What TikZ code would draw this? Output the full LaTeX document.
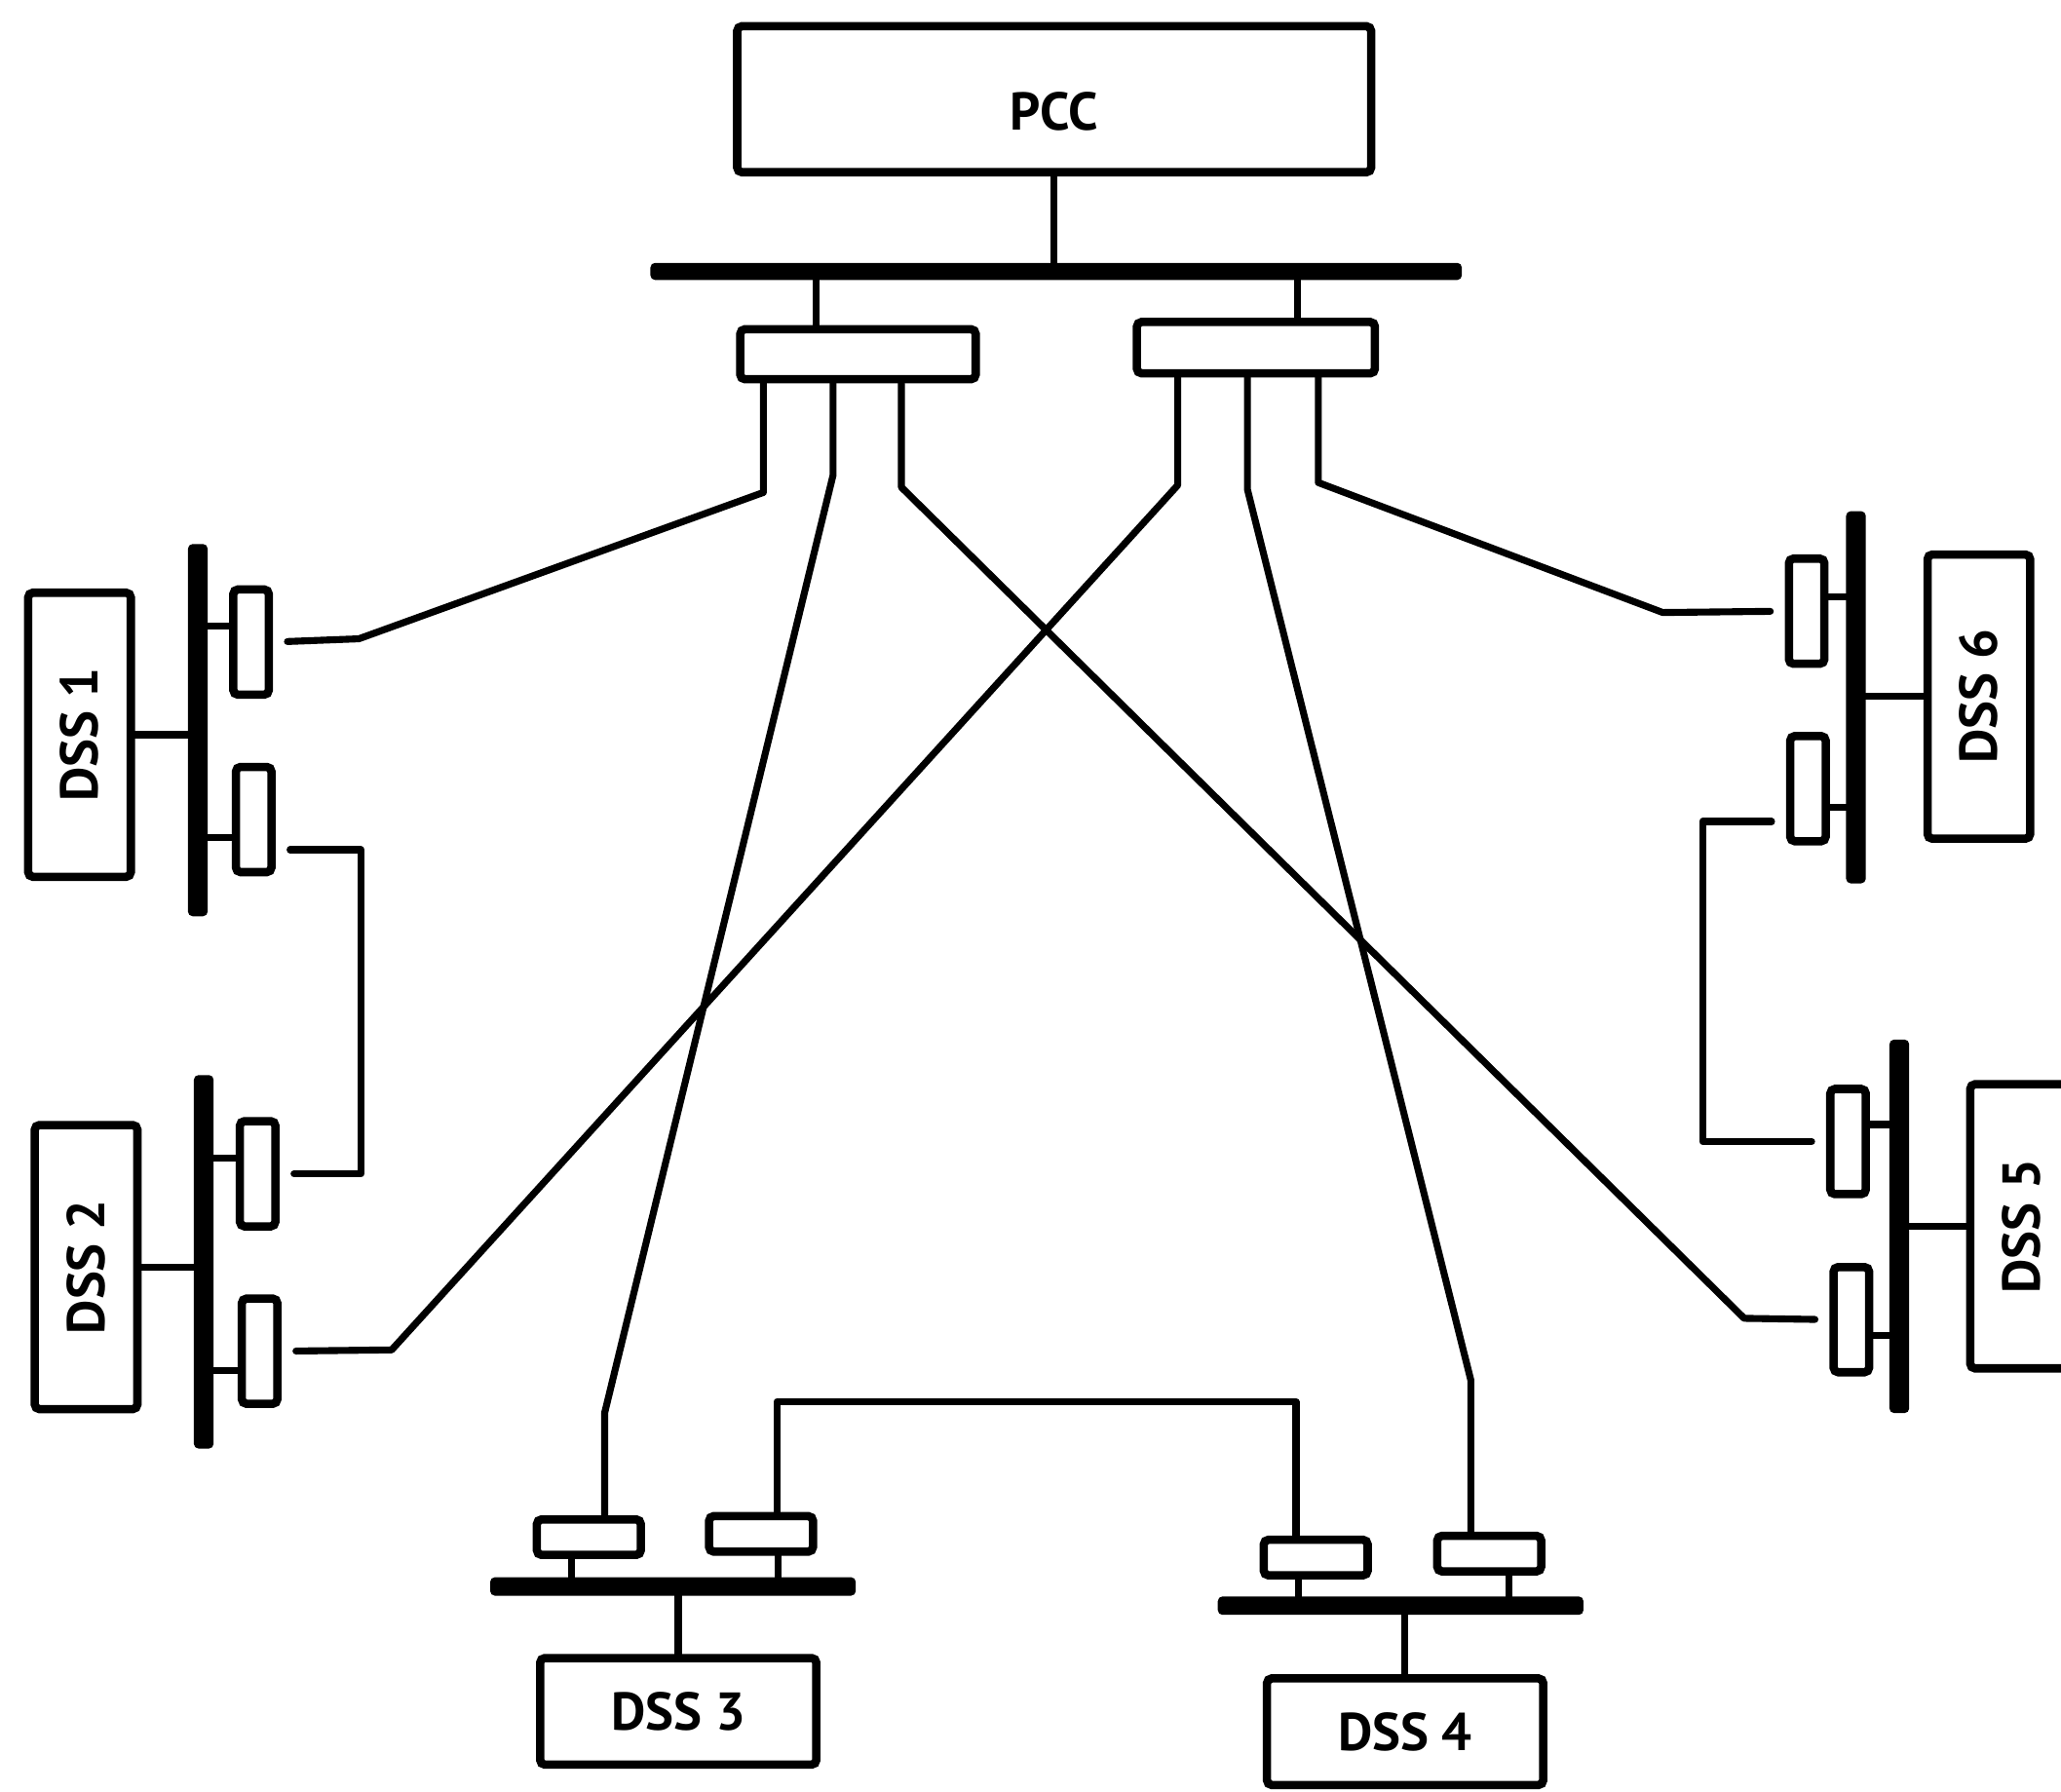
\documentclass[tikz,border=0pt]{standalone}
\usepackage{fontspec}
\setmainfont{PT Sans}
\usetikzlibrary{calc}

\begin{document}
\begin{tikzpicture}[x=0.01cm, y=-0.01cm,
    box/.style={draw, line width=1.8pt, rounded corners=1pt, inner sep=0pt,
      font=\bfseries\fontsize{11.5}{13}\selectfont},
    vbox/.style={box, minimum width=0.78cm, minimum height=2.16cm},
    hbox/.style={box, minimum width=2.10cm, minimum height=0.81cm},
    port/.style={draw, line width=1.8pt, rounded corners=1pt, inner sep=0pt},
    vport/.style={port, minimum width=0.27cm, minimum height=0.80cm},
    hport/.style={port, minimum width=0.79cm, minimum height=0.27cm},
    bus/.style={fill, inner sep=0pt, rounded corners=1pt},
    wire/.style={line width=1.5pt, line cap=round, line join=round},
    gapend/.style={shorten >=0.11cm},
    gapstart/.style={shorten <=0.11cm}]
    \path[use as bounding box] (0,0) rectangle (1568,1363);

    % PCC with its bus and the two central adapters
    \node[box, minimum width=4.82cm, minimum height=1.11cm, text height=0.48cm] (pcc) at (802,75.5) {PCC};
    \node[bus, minimum width=6.17cm, minimum height=0.13cm] (bus0) at (803.5,206.5) {};
    \node[port, minimum width=1.79cm, minimum height=0.38cm] (a1) at (652.75,269.5) {};
    \node[port, minimum width=1.81cm, minimum height=0.39cm] (a2) at (955.5,264.5) {};
    \draw[wire] (pcc.south) -- (pcc.south |- bus0.center);
    \draw[wire] ($(a1.north)+(-32,0)$) coordinate (s) -- (s |- bus0.center);
    \draw[wire] ($(a2.north)+(31.5,0)$) coordinate (s) -- (s |- bus0.center);

    % DSS 1 and DSS 2 (left)
    \node[vbox] (dss1) at (60.5,559) {\rotatebox{90}{DSS 1}};
    \node[bus, minimum width=0.15cm, minimum height=2.83cm] (bar1) at (150.5,555.5) {};
    \node[vport] (d1a) at (191,488.5) {};
    \node[vport] (d1b) at (193,623.5) {};
    \node[vbox] (dss2) at (65.5,964) {\rotatebox{90}{DSS 2}};
    \node[bus, minimum width=0.15cm, minimum height=2.84cm] (bar2) at (155,960) {};
    \node[vport] (d2a) at (196,893) {};
    \node[vport] (d2b) at (197.5,1028) {};
    \draw[wire] (dss1.east) -- (dss1.east -| bar1.center);
    \draw[wire] (dss2.east) -- (dss2.east -| bar2.center);
    \foreach \p/\b/\o in {d1a/bar1/-12, d1b/bar1/14, d2a/bar2/-12, d2b/bar2/15}
      \draw[wire] ($(\p.west)+(0,\o)$) coordinate (s) -- (s -| \b.center);

    % DSS 6 and DSS 5 (right)
    \node[vbox] (dss6) at (1505.5,530) {\rotatebox{90}{DSS 6}};
    \node[bus, minimum width=0.15cm, minimum height=2.83cm] (bar6) at (1412,530.5) {};
    \node[vport] (d6a) at (1374.5,465) {};
    \node[vport] (d6b) at (1375.5,600) {};
    \node[vbox] (dss5) at (1538,933) {\rotatebox{90}{DSS 5}};
    \node[bus, minimum width=0.15cm, minimum height=2.84cm] (bar5) at (1445,933) {};
    \node[vport] (d5a) at (1406,868.5) {};
    \node[vport] (d5b) at (1408.5,1004) {};
    \draw[wire] (dss6.west) -- (dss6.west -| bar6.center);
    \draw[wire] (dss5.west) -- (dss5.west -| bar5.center);
    \foreach \p/\b/\o in {d6a/bar6/-11, d6b/bar6/14, d5a/bar5/-13, d5b/bar5/12}
      \draw[wire] ($(\p.east)+(0,\o)$) coordinate (s) -- (s -| \b.center);

    % DSS 3 and DSS 4 (bottom)
    \node[hbox] (dss3) at (516,1302) {DSS 3};
    \node[bus, minimum width=2.78cm, minimum height=0.14cm] (bar3) at (512,1207) {};
    \node[hport] (a3l) at (448,1169.5) {};
    \node[hport] (a3r) at (579,1167) {};
    \node[hbox] (dss4) at (1069,1317.5) {DSS 4};
    \node[bus, minimum width=2.78cm, minimum height=0.14cm] (bar4) at (1065.6,1221.6) {};
    \node[hport] (a4l) at (1001,1185) {};
    \node[hport] (a4r) at (1133,1182) {};
    \draw[wire] (dss3.north) -- (dss3.north |- bar3.center);
    \draw[wire] (dss4.north) -- (dss4.north |- bar4.center);
    \foreach \p/\b/\o in {a3l/bar3/-13, a3r/bar3/13, a4l/bar4/-13, a4r/bar4/15}
      \draw[wire] ($(\p.south)+(\o,0)$) coordinate (s) -- (s |- \b.center);

    % trunk lines from the central adapters
    \draw[wire, gapend] ($(a1.south)+(-72,0)$) -- ++(0,83) -- (273,486) -- (d1a.east);
    \draw[wire] ($(a1.south)+(-19,0)$) -- ++(0,70) -- (460,1075) -- ($(a3l.north)+(12,0)$);
    \draw[wire, gapend] ($(a1.south)+(33,0)$) -- ++(0,79) -- (1327,1003) -- (d5b.west);
    \draw[wire, gapend] ($(a2.south)+(-59.5,0)$) -- ++(0,82) -- (298,1027) -- (d2b.east);
    \draw[wire] ($(a2.south)+(-6.5,0)$) -- ++(0,85) -- (1119,1050) -- ($(a4r.north)+(-14,0)$);
    \draw[wire, gapend] ($(a2.south)+(47.5,0)$) -- ++(0,80) -- (1265,466) -- (d6a.west);

    % links between neighbouring stations
    \draw[wire, gapstart, gapend] ($(d1b.east)+(0,23)$) -| ($(d2a.east)+(62,0)$) -- (d2a.east);
    \draw[wire, gapstart, gapend] ($(d6b.west)+(0,25)$) -| ($(d5a.west)+(-94,0)$) -- (d5a.west);
    \draw[wire] ($(a3r.north)+(12,0)$) |- ($(a4l.north)+(-15,-102)$) -- ($(a4l.north)+(-15,0)$);
\end{tikzpicture}
\end{document}
